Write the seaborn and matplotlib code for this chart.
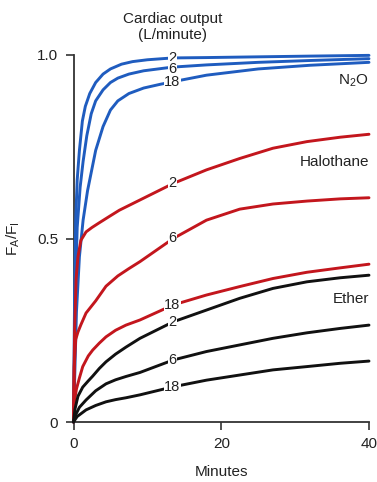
import numpy as np
import pandas as pd
import matplotlib
matplotlib.use('Agg')
import matplotlib.pyplot as plt
import seaborn as sns

# uptake curves: minutes vs FA/FI, one per cardiac output
n2o_2_x = [0, 0.15, 0.3, 0.5, 0.8, 1.2, 1.6, 2.2, 3, 4, 5, 6.5, 8, 10, 13.4, 18, 25, 32, 40]
n2o_2_y = [0, 0.35, 0.55, 0.66, 0.74, 0.82, 0.86, 0.895, 0.925, 0.948, 0.962, 0.975, 0.982, 0.987, 0.992, 0.993, 0.995, 0.997, 0.999]
n2o_6_x = [0, 0.25, 0.5, 0.9, 1.3, 1.8, 2.4, 3, 4, 5, 6, 7.5, 9.5, 13.4, 18, 25, 32, 40]
n2o_6_y = [0, 0.35, 0.53, 0.64, 0.71, 0.78, 0.84, 0.875, 0.905, 0.925, 0.937, 0.948, 0.957, 0.967, 0.973, 0.98, 0.985, 0.99]
n2o_18_x = [0, 0.4, 0.8, 1.3, 1.9, 2.5, 3, 4, 5, 6, 7.5, 9.5, 11.7, 13.4, 18, 25, 32, 40]
n2o_18_y = [0, 0.3, 0.45, 0.55, 0.63, 0.69, 0.74, 0.805, 0.85, 0.875, 0.895, 0.91, 0.92, 0.927, 0.945, 0.962, 0.972, 0.98]

hal_2_x = [0, 0.15, 0.35, 0.6, 1, 1.7, 2.5, 3.5, 5, 6.2, 7.5, 9, 13.5, 18, 22.5, 27, 31.6, 36.1, 40]
hal_2_y = [0, 0.25, 0.39, 0.45, 0.495, 0.518, 0.53, 0.543, 0.562, 0.577, 0.59, 0.605, 0.65, 0.687, 0.718, 0.746, 0.764, 0.776, 0.784]
hal_6_x = [0, 0.1, 0.3, 0.6, 1, 1.7, 3, 4.4, 6, 7.5, 9, 13.5, 18, 22.5, 27, 31.6, 36.1, 40]
hal_6_y = [0, 0.15, 0.225, 0.245, 0.265, 0.297, 0.33, 0.37, 0.398, 0.418, 0.437, 0.5, 0.55, 0.58, 0.594, 0.602, 0.608, 0.611]
hal_18_x = [0, 0.15, 0.4, 0.8, 1.25, 2, 2.6, 3.5, 4.4, 5.7, 7.1, 9, 13.5, 18, 22.5, 27, 31.6, 36.1, 40]
hal_18_y = [0, 0.06, 0.09, 0.12, 0.151, 0.18, 0.196, 0.215, 0.232, 0.25, 0.264, 0.278, 0.319, 0.346, 0.369, 0.391, 0.408, 0.42, 0.43]

eth_2_x = [0, 0.2, 0.6, 1.25, 2, 2.6, 3.5, 4.4, 5.7, 7.1, 9, 13.5, 18, 22.5, 27, 31.6, 36.1, 40]
eth_2_y = [0, 0.035, 0.07, 0.095, 0.112, 0.125, 0.146, 0.164, 0.185, 0.204, 0.228, 0.273, 0.305, 0.337, 0.364, 0.382, 0.393, 0.4]
eth_6_x = [0, 0.3, 0.8, 1.7, 3, 4.4, 5.7, 7.1, 9, 13.5, 18, 22.5, 27, 31.6, 36.1, 40]
eth_6_y = [0, 0.02, 0.04, 0.06, 0.085, 0.104, 0.115, 0.124, 0.135, 0.169, 0.192, 0.21, 0.228, 0.243, 0.255, 0.264]
eth_18_x = [0, 0.5, 1.7, 3, 4.4, 5.7, 7.1, 9, 13.5, 18, 22.5, 27, 31.6, 36.1, 40]
eth_18_y = [0, 0.015, 0.033, 0.045, 0.055, 0.061, 0.066, 0.074, 0.096, 0.114, 0.128, 0.142, 0.151, 0.16, 0.166]

cardiac_outputs = ['2', '6', '18']
label_x = 13.4
n2o_label_y = [0.992, 0.963, 0.927]
hal_label_y = [0.65, 0.5, 0.32]
eth_label_y = [0.273, 0.169, 0.096]

blue = '#1f5cbf'
red = '#c3161d'
black = '#111111'

sns.set_style('ticks')
plt.rcParams['font.family'] = ['Liberation Sans', 'DejaVu Sans']
plt.rcParams['mathtext.fontset'] = 'custom'
plt.rcParams['mathtext.rm'] = 'Liberation Sans'

fig = plt.figure(figsize=(3.77, 4.82), dpi=100)
ax = fig.add_axes([73.5 / 377, 1 - 422 / 482, 295.5 / 377, 367 / 482])

groups = [
    ([(n2o_2_x, n2o_2_y), (n2o_6_x, n2o_6_y), (n2o_18_x, n2o_18_y)], n2o_label_y, blue),
    ([(hal_2_x, hal_2_y), (hal_6_x, hal_6_y), (hal_18_x, hal_18_y)], hal_label_y, red),
    ([(eth_2_x, eth_2_y), (eth_6_x, eth_6_y), (eth_18_x, eth_18_y)], eth_label_y, black),
]

for curves, label_ys, color in groups:
    for (xs, ys), co, ly in zip(curves, cardiac_outputs, label_ys):
        df = pd.DataFrame({'Minutes': xs, 'FA/FI': ys})
        sns.lineplot(data=df, x='Minutes', y='FA/FI', color=color, lw=2.1,
                     ax=ax, clip_on=False, zorder=3, solid_capstyle='round',
                     solid_joinstyle='round')
        ax.text(label_x, ly, co, ha='center', va='center', fontsize=10.5,
                color='#222222', zorder=4,
                bbox=dict(facecolor='white', edgecolor='none', pad=0.3))

ax.text(40, 0.93, 'N$_2$O', ha='right', va='center', fontsize=11, color='#222222')
ax.text(40, 0.708, 'Halothane', ha='right', va='center', fontsize=11, color='#222222')
ax.text(40, 0.335, 'Ether', ha='right', va='center', fontsize=11, color='#222222')
ax.text(label_x, 1.076, 'Cardiac output\n(L/minute)', ha='center', va='center',
        fontsize=11, color='#222222', linespacing=1.15)

ax.set_xlim(0, 40)
ax.set_ylim(0, 1.0)
ax.set_xticks([0, 20, 40])
ax.set_xticklabels(['0', '20', '40'])
ax.set_yticks([0, 0.5, 1.0])
ax.set_yticklabels(['0', '0.5', '1.0'])
ax.tick_params(axis='both', labelsize=11, length=6, width=1.2, color='#333333',
               labelcolor='#222222')
ax.tick_params(axis='y', pad=5)
ax.tick_params(axis='x', pad=5)
sns.despine(ax=ax)
for side in ['left', 'bottom']:
    ax.spines[side].set_color('#333333')
    ax.spines[side].set_linewidth(1.3)

ax.set_xlabel('Minutes', fontsize=11, color='#222222')
ax.xaxis.set_label_coords(0.5, -0.135)
ax.xaxis.label.set_va('center')
ax.set_ylabel(r'F$_{\mathregular{A}}$/F$_{\mathregular{I}}$', fontsize=11, color='#222222')
ax.yaxis.set_label_coords(-0.205, 0.5)
ax.yaxis.label.set_va('center')

fig.savefig('out.png', dpi=100)
